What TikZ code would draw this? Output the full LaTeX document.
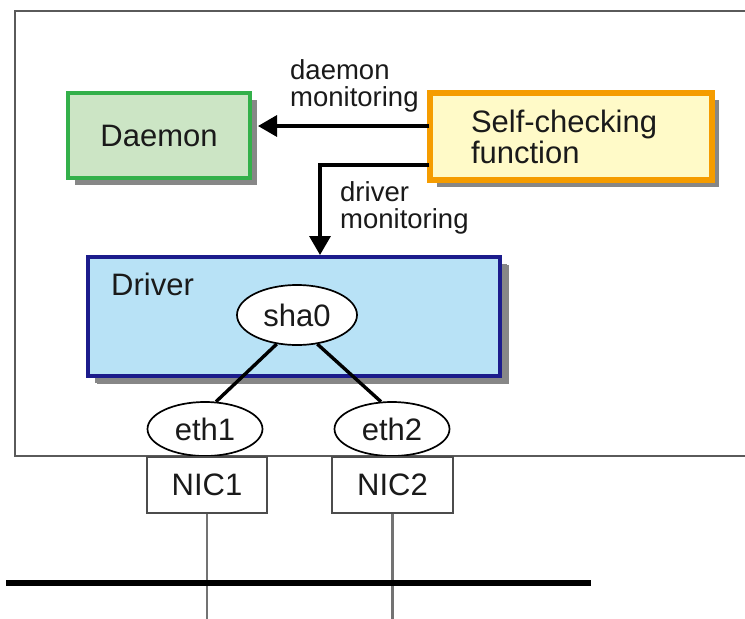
\documentclass[tikz,border=0pt]{standalone}
\usepackage{fontspec}
\setmainfont{Liberation Sans}
\usetikzlibrary{shadows,arrows.meta,shapes.geometric}
\definecolor{txt}{HTML}{1A1A1A}
\definecolor{dfill}{HTML}{CCE5C5}
\definecolor{dline}{HTML}{33B04A}
\definecolor{sfill}{HTML}{FFFAC8}
\definecolor{sline}{HTML}{F59C00}
\definecolor{vfill}{HTML}{B8E2F6}
\definecolor{vline}{HTML}{1C1C8C}
\definecolor{frame}{HTML}{5A5A5A}
\begin{document}
\begin{tikzpicture}[x=1pt,y=-1pt,
  every node/.style={text=txt,font=\fontsize{31}{31}\selectfont,inner sep=0pt},
  shad/.style={drop shadow={shadow xshift=7pt,shadow yshift=-7pt,fill=black!47,opacity=1}},
  lbl/.style={font=\fontsize{27.5}{27}\selectfont,align=left,anchor=west},
  box/.style={draw,rectangle,shad},
  oval/.style={draw=black,line width=1.7pt,ellipse,fill=white},
  nic/.style={draw=black!70,line width=2pt,fill=white,rectangle},
  arr/.style={line width=3.4pt,-{Triangle[length=19pt,width=21pt]}},
  link/.style={line width=3.4pt,black},
  wire/.style={line width=2.4pt,black!55}]
\useasboundingbox (0,0) rectangle (745,619);
\clip (0,0) rectangle (745,619);
\fill[white] (0,0) rectangle (745,619);
% outer frame
\draw[frame,line width=2.8pt] (800,11) -- (15,11) -- (15,456) -- (800,456);
% boxes
\node[box,fill=dfill,draw=dline,line width=4pt,minimum width=182pt,minimum height=85pt] (daemon) at (159,135.5) {Daemon};
\node[box,fill=sfill,draw=sline,line width=5.5pt,minimum width=282pt,minimum height=87pt,text width=200pt,align=left] (self) at (571,136.5) {Self-checking\\function};
\node[box,fill=vfill,draw=vline,line width=4pt,minimum width=412pt,minimum height=119pt,drop shadow={shadow xshift=9pt,shadow yshift=-8pt,fill=black!47,opacity=1}] (driver) at (294,316.5) {};
\node[anchor=west] (drvlbl) at (111,284) {Driver};
% ellipses
\node[oval,minimum width=120pt,minimum height=60pt] (sha0) at (297,315) {sha0};
\coordinate (e1) at (205,429);
\coordinate (e2) at (392,429);
\node[oval,minimum width=115pt,minimum height=54pt] (eth1) at (e1) {eth1};
\node[oval,minimum width=115pt,minimum height=54pt] (eth2) at (e2) {eth2};
% links
\draw[link] (sha0.-125) -- (eth1.68);
\draw[link] (sha0.-55) -- (eth2.112);
% NICs
\node[nic,minimum width=120pt,minimum height=56pt] (nic1) at (207,485) {NIC1};
\node[nic,minimum width=121pt,minimum height=56pt] (nic2) at (392.5,485) {NIC2};
\coordinate (b1) at (207,625);
\coordinate (b2) at (392.5,625);
\draw[wire] (nic1.south) -- (b1);
\draw[wire] (nic2.south) -- (b2);
\coordinate (busL) at (6,583);
\coordinate (busR) at (591,583);
\draw[line width=5.5pt,black] (busL) -- (busR);
% arrows
\coordinate (d1) at (429,126);
\coordinate (d1t) at (258,126);
\draw[arr] (d1) -- (d1t);
\coordinate (s2) at (429,165);
\coordinate (c2) at (320,165);
\draw[arr] (s2) -- (c2) -- (c2 |- driver.north);
% labels
\node[lbl] (lab1) at (290,86) {daemon\\monitoring};
\node[lbl] (lab2) at (340,208) {driver\\monitoring};
\end{tikzpicture}
\end{document}
